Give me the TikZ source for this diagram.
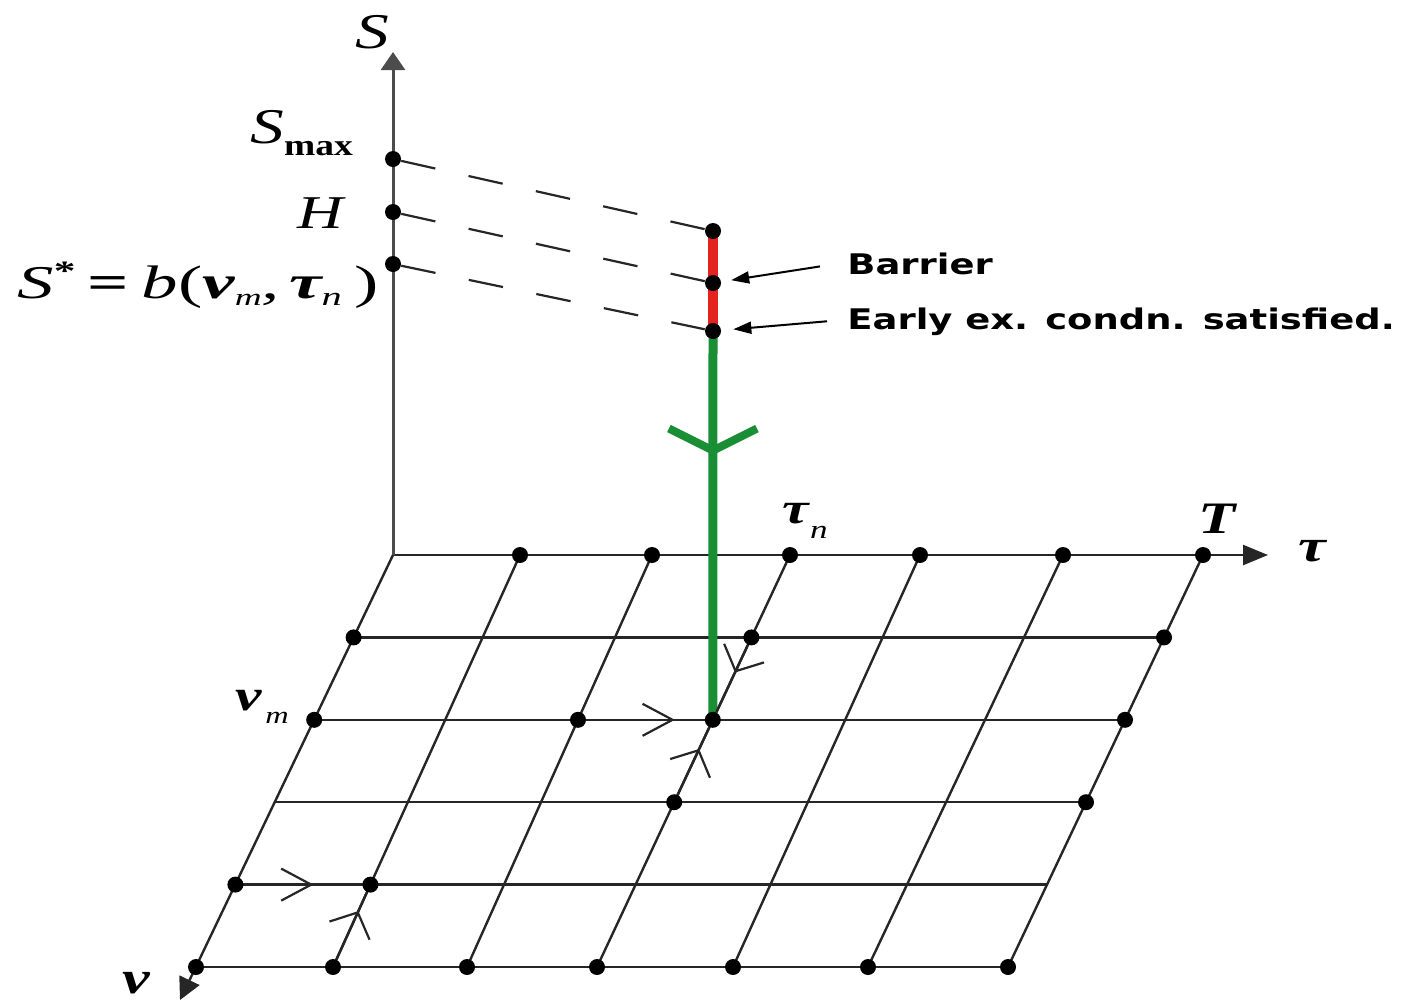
\documentclass[tikz,border=0pt]{standalone}
\usepackage{fontspec}
\usepackage{graphicx}
\usetikzlibrary{arrows.meta,decorations.markings}
\pgfdeclarelayer{bg}
\pgfsetlayers{bg,main}
\newfontfamily\tms{Liberation Serif}
\newfontfamily\lblf{DejaVu Sans}
\definecolor{bred}{RGB}{230,34,30}
\definecolor{bgreen}{RGB}{26,142,52}
\newcommand{\hs}[1]{\scalebox{1.35}[1]{#1}}
\newcommand{\fsz}[1]{\fontsize{#1}{#1}\selectfont}
\begin{document}
\begin{tikzpicture}[x=0.5pt,y=-0.5pt,
  dot/.style={circle,fill=black,inner sep=0pt,minimum size=8pt},
  gridline/.style={line width=1.2pt,black!85},
  axisline/.style={line width=1.5pt,black!70},
  dashline/.style={line width=1.1pt,black!85,dash pattern=on 17.5pt off 17pt},
  lab/.style={inner sep=0pt},
  redline/.style={line width=5pt,bred},
  greenline/.style={line width=4.5pt,bgreen},
  ptr/.style={line width=1pt,black,-{Triangle[length=9pt,width=6pt]}},
  rowflow/.style={gridline,postaction={decorate},decoration={markings,mark=at position #1 with {\arrow{Straight Barb[length=15pt,width=16pt,line width=1.1pt]}}}},
  colflow/.style={gridline,postaction={decorate},decoration={markings,mark=at position #1 with {\arrow{Straight Barb[length=10pt,width=22pt,line width=1.1pt]}}}},
]
\useasboundingbox (0,0) rectangle (1412,1003);

% grid coordinates
\foreach \t/\b [count=\j from 0] in {393/196,520/333,652/467,790/597,920/733,1063/868,1203/1008}{
  \foreach \k in {0,...,5}{
    \coordinate (g\j-\k) at ({\t+(\b-\t)*\k/5},{555+82.4*\k});
  }
}
\coordinate (tautip) at (1268,555);
\coordinate (vtip) at (180,1000);
\coordinate (stip) at (393,52);

% dots on grid
\foreach \j/\k in {1/0,2/0,3/0,4/0,5/0,6/0, 0/1,3/1,6/1, 0/2,2/2,3/2,6/2, 3/3,6/3, 0/4,1/4, 0/5,1/5,2/5,3/5,4/5,5/5,6/5}
  \node[dot] (n\j-\k) at (g\j-\k) {};

% dots on S axis and on the vertical path
\node[dot] (smax) at (393,159) {};
\node[dot] (sh) at (393,212) {};
\node[dot] (ss) at (393,264) {};
\node[dot] (dtop) at (713,231) {};
\node[dot] (dbar) at (713,283) {};
\node[dot] (dearly) at (713,331) {};

% labels
\node[lab,anchor=base] (lS) at (372,48) {\hs{\tms\fsz{25}\itshape S}};
\node[lab,anchor=base west] (lSmax) at (250,143) {\hs{\tms\fsz{25}\itshape S}\scalebox{1.25}[1]{\tms\upshape\bfseries\raisebox{-6pt}{\fsz{15}max}}};
\node[lab,anchor=base] (lH) at (320,228) {\hs{\tms\fsz{23.5}\itshape H}};
\node[lab,anchor=base west] (lSstar) at (17,298) {\scalebox{1.55}[1]{\tms\fsz{23.5}\itshape S\raisebox{9pt}{\fsz{14}\upshape\bfseries *}\hspace{4pt}\upshape\bfseries=\mdseries\hspace{4pt}\itshape b\upshape(\bfseries\itshape v\mdseries\raisebox{-3.5pt}{\fsz{12}m},\hspace{3pt}\bfseries τ\mdseries\raisebox{-3.5pt}{\fsz{13}n}\hspace{4pt}\upshape)}};
\node[lab,anchor=base] (ltaun) at (796,523) {\hs{\tms\fsz{22}\bfseries\itshape τ}};
\node[lab,anchor=base] (ltaunsub) at (819,538) {\hs{\tms\fsz{13}\itshape n}};
\node[lab,anchor=base] (lT) at (1217,533) {\hs{\tms\fsz{22.5}\bfseries\itshape T}};
\node[lab,anchor=base] (ltau) at (1312,561) {\hs{\tms\fsz{23}\bfseries\itshape τ}};
\node[lab,anchor=base] (lvm) at (249,710) {\hs{\tms\fsz{22}\bfseries\itshape v}};
\node[lab,anchor=base] (lvmsub) at (277,723) {\hs{\tms\fsz{12}\itshape m}};
\node[lab,anchor=base] (lv) at (136,993) {\hs{\tms\fsz{23}\bfseries\itshape v}};

\node[lab,anchor=base west] (lbar) at (847,274) {\scalebox{1.3}[1]{\lblf\bfseries\fsz{14.2}Barrier}};
\node[lab,anchor=base west] (learly) at (847,329) {\scalebox{1.3}[1]{\lblf\bfseries\fsz{14.2}Early ex. condn. satisfied.}};

\begin{pgfonlayer}{bg}
% grid lines
\foreach \j in {1,...,6} \draw[gridline] (g\j-0) -- (g\j-5);
\foreach \k in {1,...,5} \draw[gridline] (g0-\k) -- (g6-\k);

% axes
\draw[gridline,-{Triangle[length=12.5pt,width=10pt]}] (g0-0) -- (tautip);
\draw[gridline,-{Triangle[length=11pt,width=11pt]}] (g0-0) -- (vtip);
\draw[axisline,-{Triangle[length=9pt,width=12pt]}] (g0-0) -- (stip);

% dashed projections
\draw[dashline] (smax) -- (dtop);
\draw[dashline] (sh) -- (dbar);
\draw[dashline] (ss) -- (dearly);

% coloured path
\draw[redline] (dtop.center) -- (dearly.center);
\draw[greenline,postaction={decorate},decoration={markings,mark=at position 0.319 with {\arrow{Straight Barb[length=11pt,width=44pt,line width=4pt]}}}] (dearly.center) -- (n3-2.center);

% flow arrows on grid
\draw[rowflow=0.75] (n2-2) -- (n3-2);
\draw[rowflow=0.59] (n0-4) -- (n1-4);
\draw[colflow=0.72] (n1-5) -- (n1-4);
\draw[colflow=0.68] (n3-3) -- (n3-2);
\draw[colflow=0.41] (n3-1) -- (n3-2);

% pointers
\draw[ptr,shorten >=5pt] ([shift={(-27,3)}]lbar.west) -- (dbar);
\draw[ptr,shorten >=6pt] ([shift={(-20,0)}]learly.west) -- (dearly);
\end{pgfonlayer}
\end{tikzpicture}
\end{document}
